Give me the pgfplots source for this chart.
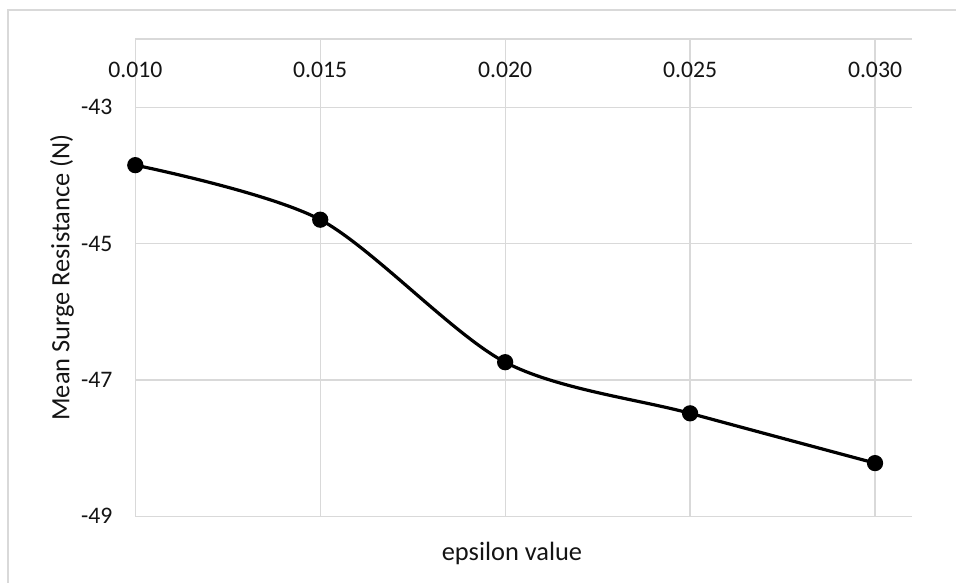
\documentclass[border=0pt]{standalone}
\usepackage{pgfplots}
\pgfplotsset{compat=1.18}
\usepackage{fontspec}
\setmainfont{Carlito}
\definecolor{gridc}{RGB}{217,217,217}
\definecolor{txt}{RGB}{20,20,20}
\begin{document}
\begin{tikzpicture}
\path[use as bounding box] (0,0) rectangle (956bp,583bp);
\draw[gridc, line width=1.3bp] (8bp,0) -- (8bp,573bp) -- (956bp,573bp);
\begin{axis}[
  at={(135.3bp,66.7bp)}, anchor=south west,
  width=776.7bp, height=477.3bp, scale only axis,
  xmin=0.010, xmax=0.031, ymin=-49, ymax=-42,
  scaled x ticks=false, scaled y ticks=false,
  axis x line*=top, axis y line*=left,
  axis line style={gridc, line width=1.3bp, -},
  xtick={0.010,0.015,0.020,0.025,0.030},
  xticklabels={0.010,0.015,0.020,0.025,0.030},
  ytick={-49,-47,-45,-43},
  yticklabels={-49,-47,-45,-43},
  major tick length=0pt,
  grid=major,
  major grid style={gridc, line width=1.3bp},
  xticklabel style={anchor=center, yshift=-31bp, font=\fontsize{23.7bp}{28bp}\selectfont, text=txt},
  yticklabel style={anchor=east, inner sep=0pt, xshift=-22.6bp, font=\fontsize{23.7bp}{28bp}\selectfont, text=txt},
  xlabel={epsilon value}, ylabel={Mean Surge Resistance (N)},
  every axis x label/.style={at={(axis description cs:0.485,0)}, anchor=base, yshift=-43.7bp, font=\fontsize{26.4bp}{32bp}\selectfont, text=txt},
  every axis y label/.style={at={(axis description cs:0,0.5)}, rotate=90, anchor=base, yshift=66bp, font=\fontsize{26.4bp}{32bp}\selectfont, text=txt},
  clip=false,
]
\addplot[smooth, tension=0.5, line width=3.2bp, black, mark=*, mark size=6.5bp, mark options={solid, fill=black}] coordinates {
  (0.010,-43.85) (0.015,-44.65) (0.020,-46.74) (0.025,-47.49) (0.030,-48.22)
};
\end{axis}
\end{tikzpicture}
\end{document}
